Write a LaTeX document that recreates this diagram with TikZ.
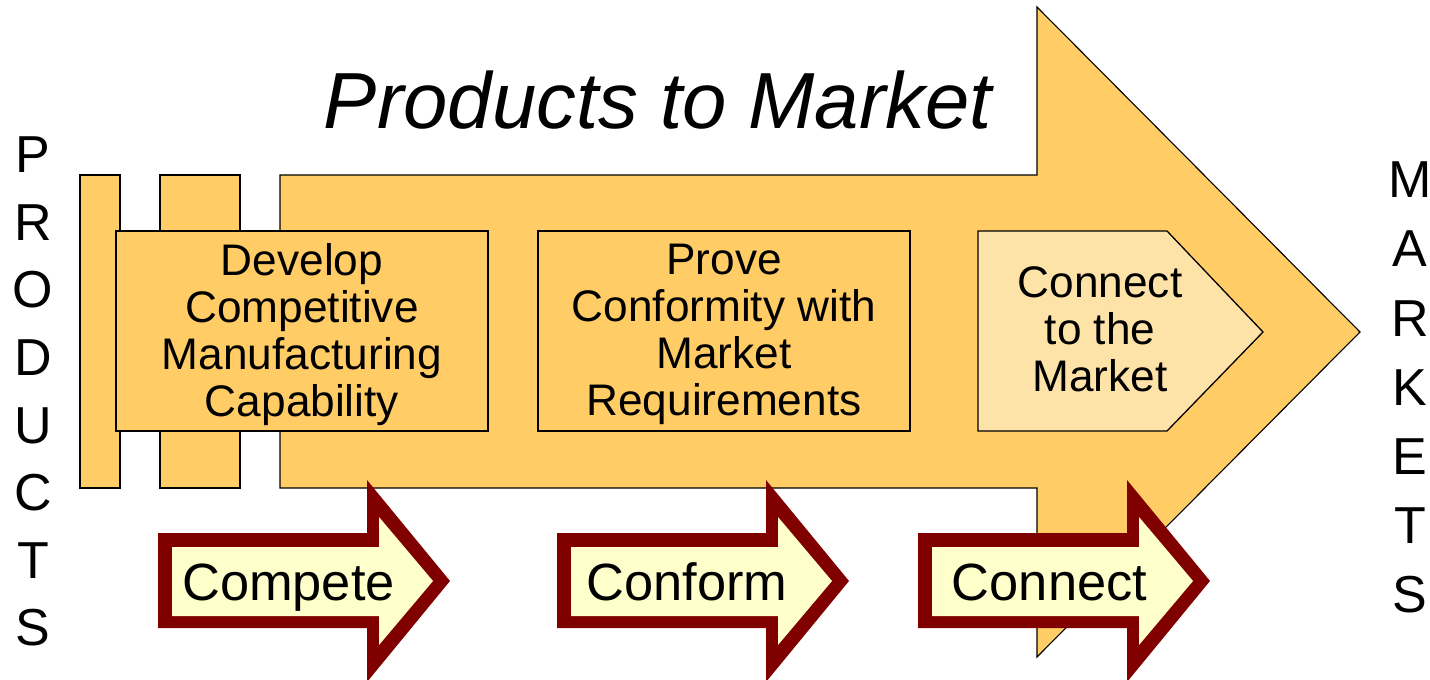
\documentclass[tikz,border=0pt]{standalone}
\usepackage{fontspec}
\setmainfont{Liberation Sans}
\definecolor{gold}{HTML}{FFCC66}
\definecolor{paleGold}{HTML}{FEE3A8}
\definecolor{darkRed}{HTML}{800000}
\definecolor{paleYellow}{HTML}{FFFFCC}
\begin{document}
\begin{tikzpicture}[x=0.5pt,y=-0.5pt,
  goldshape/.style={fill=gold,draw=black,line width=0.55pt},
  stepbox/.style={goldshape,line width=0.65pt,minimum width=186pt,minimum height=100pt,inner sep=0pt},
  boxtext/.style={align=center,inner sep=0pt,font=\fontsize{22.1}{23.6}\selectfont},
  sidetext/.style={align=center,inner sep=0pt,anchor=north,font=\fontsize{26}{34}\selectfont},
  arrowtext/.style={anchor=base,inner sep=0pt,font=\fontsize{26.2}{30}\selectfont}]
\useasboundingbox (0,0) rectangle (1430,680);
% big arrow
\draw[goldshape] (280,175) -- (1037,175) -- (1037,7) -- (1360,332) -- (1037,657) -- (1037,488) -- (280,488) -- cycle;
% bars
\draw[goldshape] (80,175) rectangle (120,488);
\draw[goldshape] (160,175) rectangle (240,488);
% boxes
\node[stepbox] (box1) at (302,331) {};
\node[stepbox] (box2) at (724,331) {};
\node[boxtext,yshift=-1.7pt] (t1) at (box1.center) {Develop\\Competitive\\Manufacturing\\Capability};
\node[boxtext,yshift=-1.7pt] (t2) at (box2.center) {Prove\\Conformity with\\Market\\Requirements};
% pentagon
\draw[fill=paleGold,draw=black,line width=0.65pt] (978,231) -- (1167,231) -- (1263,332) -- (1167,431) -- (978,431) -- cycle;
\node[boxtext] (t3) at (1100,329.5) {Connect\\to the\\Market};
% small arrows
\foreach \dx/\nm/\lab/\cx in {0/compete/Compete/288.5, 399/conform/Conform/687, 760/connect/Connect/1049.5}{
  \fill[darkRed] ({158+\dx},533) -- ({367+\dx},533) -- ({367+\dx},480) -- ({450+\dx},581) -- ({367+\dx},682) -- ({367+\dx},628) -- ({158+\dx},628) -- cycle;
  \fill[paleYellow] ({172+\dx},547) -- ({379+\dx},547) -- ({379+\dx},517) -- ({433+\dx},581) -- ({379+\dx},645) -- ({379+\dx},616) -- ({172+\dx},616) -- cycle;
  \node[arrowtext] (\nm) at (\cx,600) {\lab};
}
% side labels
\node[sidetext,font=\fontsize{26}{33.8}\selectfont] (products) at (33,136.5) {P\\R\\O\\D\\U\\C\\T\\S};
\node[sidetext,font=\fontsize{26}{34.6}\selectfont] (markets) at (1410,161.5) {M\\A\\R\\K\\E\\T\\S};
% title
\node[anchor=base,inner sep=0pt,font=\fontsize{39.8}{44}\selectfont\itshape] (title) at (658,128) {Products to Market};
\end{tikzpicture}
\end{document}
